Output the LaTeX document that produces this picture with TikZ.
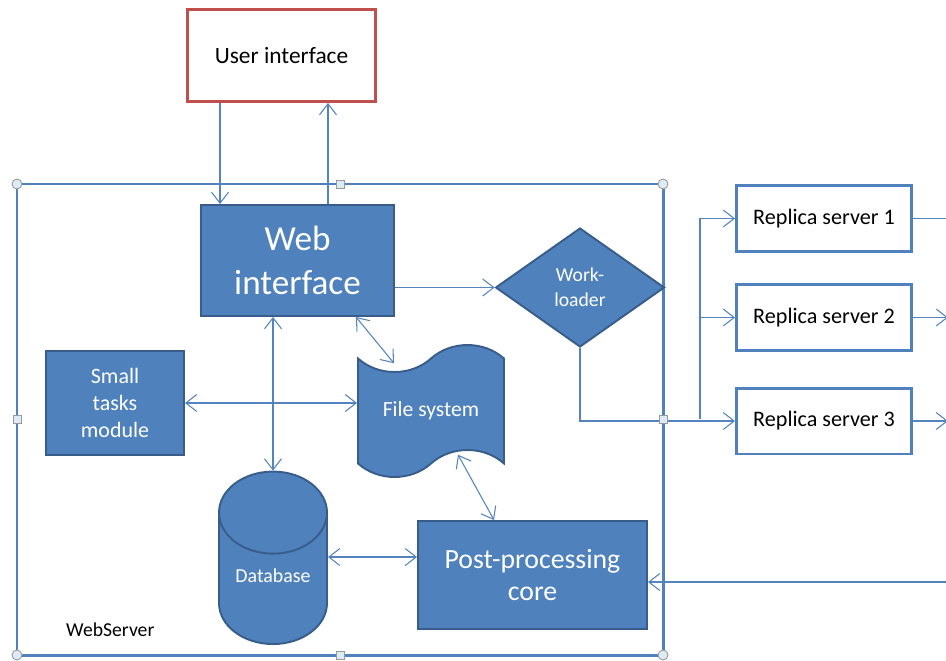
\documentclass[tikz,border=0pt]{standalone}
\usepackage{fontspec}
\setmainfont{Carlito}
\usetikzlibrary{shapes.geometric,shapes.symbols,arrows.meta}
\definecolor{boxfill}{RGB}{79,129,189}
\definecolor{boxline}{RGB}{56,93,138}
\definecolor{wirecol}{RGB}{84,132,190}
\definecolor{uired}{RGB}{192,80,77}
\definecolor{gripfill}{RGB}{221,235,247}

\begin{document}
\begin{tikzpicture}[x=0.02cm,y=-0.02cm,>={Straight Barb[length=2.2mm,width=3.4mm]},
  blockbox/.style={draw=boxline,line width=1.1pt,fill=boxfill,text=white,align=center,inner sep=2pt},
  plainbox/.style={draw=boxfill,line width=1.7pt,fill=white,text=black,align=center},
  wire/.style={draw=wirecol,line width=0.6pt},
  grip/.style={draw=gray!80,fill=gripfill,line width=0.5pt}]
  \useasboundingbox (0,0) rectangle (946,660);
  \clip (0,0) rectangle (946,660);

  % server frame
  \draw[draw=boxfill,line width=1.7pt] (17,184) rectangle (663,655);

  \node[plainbox,draw=uired,minimum width=3.76cm,minimum height=1.84cm,
    font=\fontsize{13.3}{16}\selectfont] (ui) at (281.5,55.5) {User interface};
  \node[blockbox,minimum width=3.86cm,minimum height=2.22cm,
    font=\fontsize{20}{25}\selectfont] (web) at (297.5,260.5) {Web\\interface};
  \node[blockbox,diamond,minimum width=3.38cm,minimum height=2.38cm,
    font=\fontsize{11.2}{14.2}\selectfont] (wl) at (580,287.5) {Work-\\loader};
  \node[blockbox,minimum width=2.76cm,minimum height=2.08cm,
    font=\fontsize{12.5}{15.3}\selectfont] (small) at (115,403) {Small\\tasks\\module};
  \node[blockbox,tape,minimum width=2.92cm,minimum height=2.64cm,tape bend height=0.54cm,
    font=\fontsize{12.3}{15}\selectfont] (fs) at (431,411) {File system};
  \node[blockbox,cylinder,shape border rotate=90,aspect=1,minimum width=2.16cm,
    minimum height=3.45cm,text depth=0.4cm,anchor=south,
    font=\fontsize{11.3}{13}\selectfont] (db) at (273,645) {Database};
  \node[blockbox,minimum width=4.58cm,minimum height=2.16cm,
    font=\fontsize{15.8}{18.7}\selectfont] (post) at (532.5,575) {Post-processing\\core};
  \foreach \i/\ry in {1/218.5,2/317.5,3/421}
    \node[plainbox,minimum width=3.5cm,minimum height=1.32cm,
      font=\fontsize{12.6}{15}\selectfont] (rep\i) at (824,\ry) {Replica server \i};
  \node[anchor=west,font=\fontsize{11.2}{13}\selectfont] (srv) at (60,630) {WebServer};

  % connectors
  \draw[wire,->] ([xshift=0.68cm]ui.south west) -- ([xshift=0.68cm]ui.south west |- web.north);
  \draw[wire,->] ([xshift=0.61cm]web.north) -- ([xshift=0.61cm]web.north |- ui.south);
  \draw[wire,->] (web.east |- wl.west) -- (wl.west);
  \draw[wire,<->] (web.south -| db.north) -- (db.north);
  \draw[wire,<->] (web.-44) -- ([xshift=-0.74cm,yshift=-0.12cm]fs.north);
  \draw[wire,<->] (small.east) -- (small.east -| fs.west);
  \draw[wire,<->] ([xshift=0.54cm,yshift=0.2cm]fs.south) -- (post.125);
  \draw[wire,<->] (db.east |- 0,557) -- (db.east |- 0,557 -| post.west);

  \coordinate (split) at (700,419);
  \coordinate (bus) at (948,0);
  \draw[wire,->] (wl.south) |- (rep3.west);
  \draw[wire,->] (split) |- (rep1.west);
  \draw[wire,->] (split) |- (rep2.west);
  \draw[wire,->] (rep1.east) -- (bus |- rep1.east) |- ([yshift=-0.14cm]post.east);
  \draw[wire,->] (rep2.east) -- (bus |- rep2.east);
  \draw[wire,->] (rep3.east) -- (bus |- rep3.east);

  % frame grips
  \foreach \gx/\gy in {17/184,663/184,17/655,663/655}
    \filldraw[grip] (\gx,\gy) circle (0.1cm);
  \foreach \gx/\gy in {340/184,17/419,663/419,340/655}
    \filldraw[grip] ([shift={(-0.08cm,-0.08cm)}]\gx,\gy) rectangle ++(0.16cm,0.16cm);
\end{tikzpicture}
\end{document}
